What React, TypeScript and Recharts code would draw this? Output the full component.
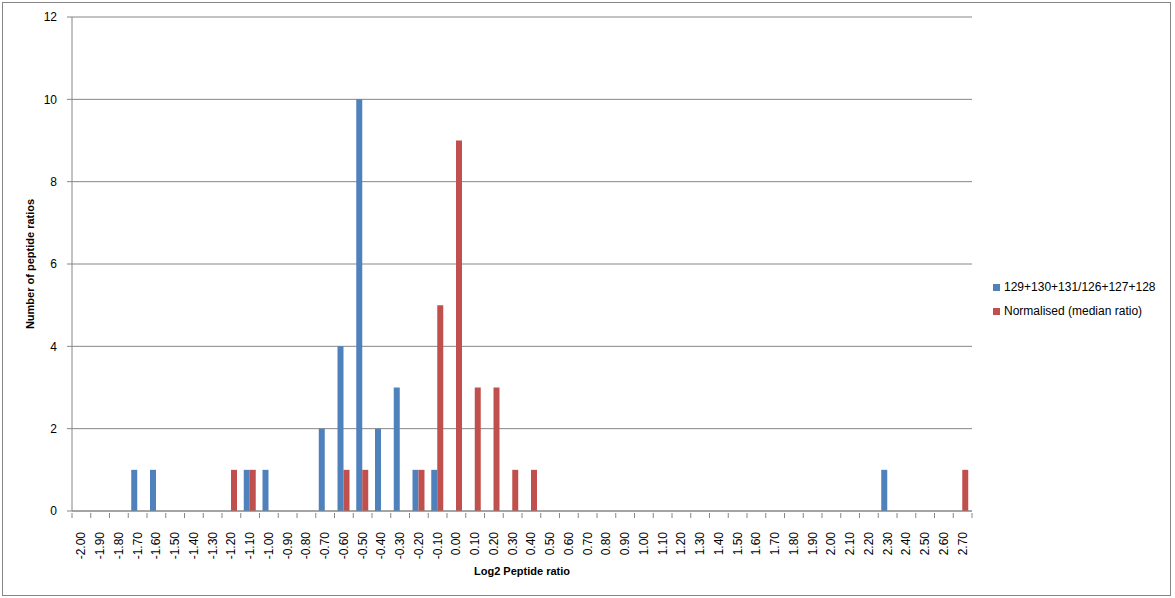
import React from "react";
import { BarChart, Bar, XAxis, YAxis, CartesianGrid } from "recharts";

const categories = [
  "-2.00", "-1.90", "-1.80", "-1.70", "-1.60", "-1.50", "-1.40", "-1.30", "-1.20", "-1.10",
  "-1.00", "-0.90", "-0.80", "-0.70", "-0.60", "-0.50", "-0.40", "-0.30", "-0.20", "-0.10",
  "0.00", "0.10", "0.20", "0.30", "0.40", "0.50", "0.60", "0.70", "0.80", "0.90",
  "1.00", "1.10", "1.20", "1.30", "1.40", "1.50", "1.60", "1.70", "1.80", "1.90",
  "2.00", "2.10", "2.20", "2.30", "2.40", "2.50", "2.60", "2.70",
];

const rawValues = [
  0, 0, 0, 1, 1, 0, 0, 0, 0, 1,
  1, 0, 0, 2, 4, 10, 2, 3, 1, 1,
  0, 0, 0, 0, 0, 0, 0, 0, 0, 0,
  0, 0, 0, 0, 0, 0, 0, 0, 0, 0,
  0, 0, 0, 1, 0, 0, 0, 0,
];

const normalisedValues = [
  0, 0, 0, 0, 0, 0, 0, 0, 1, 1,
  0, 0, 0, 0, 1, 1, 0, 0, 1, 5,
  9, 3, 3, 1, 1, 0, 0, 0, 0, 0,
  0, 0, 0, 0, 0, 0, 0, 0, 0, 0,
  0, 0, 0, 0, 0, 0, 0, 1,
];

const yTicks = [0, 2, 4, 6, 8, 10, 12];

const seriesNames = ["129+130+131/126+127+128", "Normalised (median ratio)"];
const seriesColors = ["#4F81BD", "#C0504D"];

const data = categories.map((c, i) => ({
  cat: c,
  raw: rawValues[i],
  norm: normalisedValues[i],
}));

const FONT = "'Liberation Sans', Arial, sans-serif";
const AXIS = "#868686";

const XTick = (props: any) => {
  const { x, y, payload, index, width, visibleTicksCount } = props;
  const count = visibleTicksCount || categories.length;
  const half = (width || 900) / count / 2;
  const axisY = y;
  return (
    <g>
      <line x1={x - half} y1={axisY} x2={x - half} y2={axisY + 5} stroke={AXIS} />
      {index === count - 1 && (
        <line x1={x + half} y1={axisY} x2={x + half} y2={axisY + 5} stroke={AXIS} />
      )}
      <text
        x={x}
        y={axisY + 19}
        transform={`rotate(-90, ${x}, ${axisY + 19})`}
        textAnchor="end"
        dominantBaseline="central"
        fontSize={12}
        fontFamily={FONT}
        fill="#000"
      >
        {payload.value}
      </text>
    </g>
  );
};

export default function App() {
  return (
    <div
      style={{
        position: "absolute",
        left: 2,
        top: 2,
        width: 1167,
        height: 592,
        border: `1px solid ${AXIS}`,
        background: "#fff",
      }}
    >
      <BarChart
        width={1167}
        height={592}
        data={data}
        margin={{ top: 14, right: 198, left: 19, bottom: 24 }}
        barSize={6}
        barGap={0}
      >
        <CartesianGrid vertical={false} stroke={AXIS} strokeDasharray="" />
        <XAxis
          dataKey="cat"
          interval={0}
          tickLine={false}
          tickSize={0}
          height={60}
          axisLine={{ stroke: AXIS }}
          tick={<XTick />}
          label={{
            content: (p: any) => {
              const vb = p.viewBox;
              return (
                <text
                  x={vb.x + vb.width / 2}
                  y={vb.y + 60}
                  textAnchor="middle"
                  dominantBaseline="central"
                  fontSize={11}
                  fontWeight="bold"
                  fontFamily={FONT}
                  fill="#000"
                >
                  Log2 Peptide ratio
                </text>
              );
            },
          }}
        />
        <YAxis
          width={50}
          domain={[0, 12]}
          ticks={yTicks}
          interval={0}
          tickSize={5}
          tickMargin={10}
          axisLine={{ stroke: AXIS }}
          tickLine={{ stroke: AXIS }}
          tick={{ fill: "#000", fontSize: 12, fontFamily: FONT }}
          label={{
            content: (p: any) => {
              const vb = p.viewBox;
              const cx = vb.x + 8;
              const cy = vb.y + vb.height / 2;
              return (
                <text
                  x={cx}
                  y={cy}
                  transform={`rotate(-90, ${cx}, ${cy})`}
                  textAnchor="middle"
                  dominantBaseline="central"
                  fontSize={11}
                  fontWeight="bold"
                  fontFamily={FONT}
                  fill="#000"
                >
                  Number of peptide ratios
                </text>
              );
            },
          }}
        />
        <Bar dataKey="raw" name={seriesNames[0]} fill={seriesColors[0]} isAnimationActive={false} />
        <Bar dataKey="norm" name={seriesNames[1]} fill={seriesColors[1]} isAnimationActive={false} />
      </BarChart>
      <div
        style={{
          position: "absolute",
          left: 990,
          top: 272,
          fontFamily: FONT,
          fontSize: 12,
          color: "#000",
        }}
      >
        {seriesNames.map((n, i) => (
          <div key={n} style={{ display: "flex", alignItems: "center", height: 24, whiteSpace: "nowrap" }}>
            <span style={{ display: "inline-block", width: 7, height: 7, background: seriesColors[i], marginRight: 4 }} />
            <span>{n}</span>
          </div>
        ))}
      </div>
    </div>
  );
}
